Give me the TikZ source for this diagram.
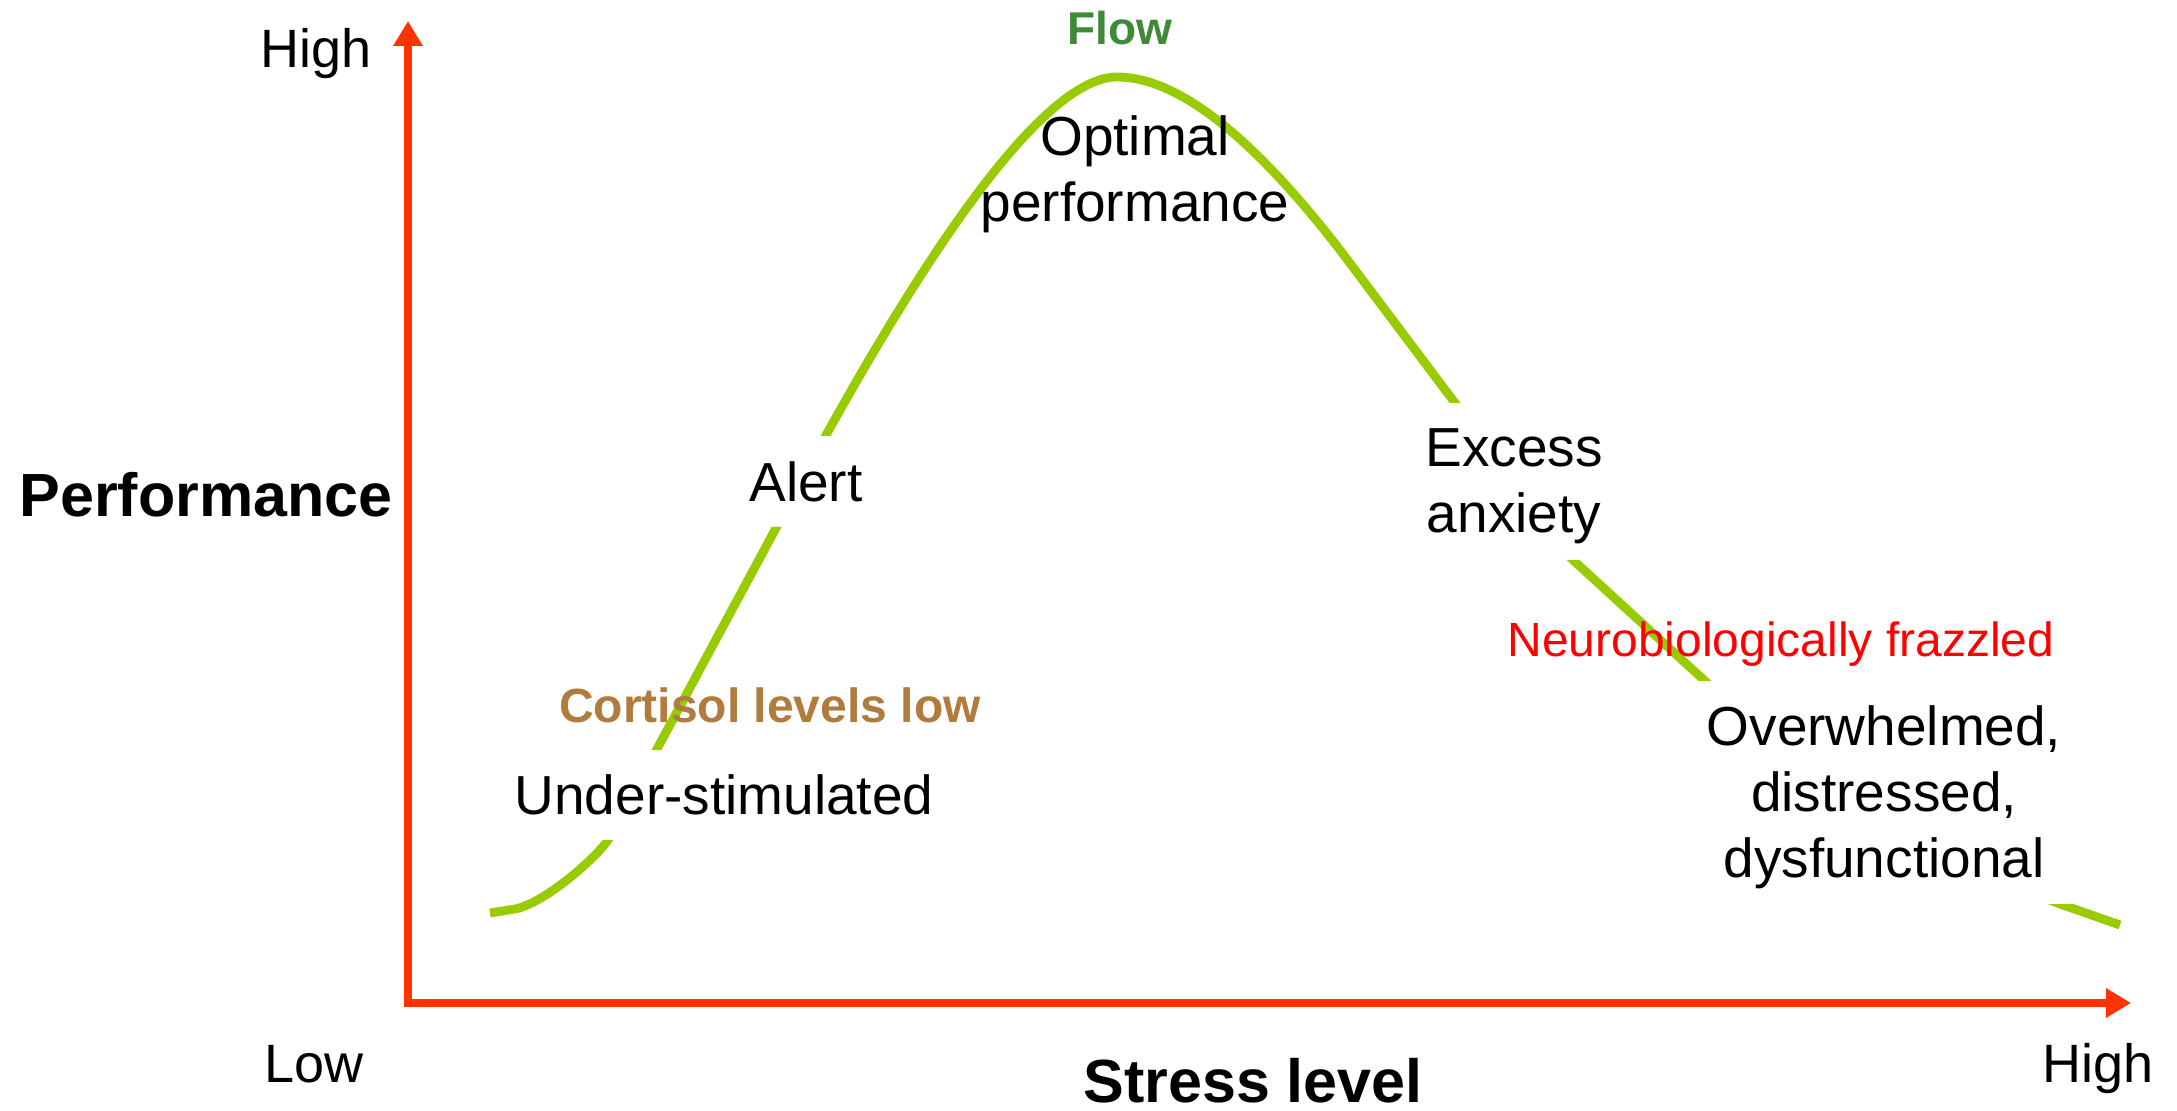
\documentclass[tikz,border=0pt]{standalone}
\usepackage{fontspec}
\setmainfont{Liberation Sans}
\usetikzlibrary{arrows.meta}
\definecolor{axisred}{HTML}{FF3300}
\definecolor{curvegreen}{HTML}{99CC00}
\definecolor{flowgreen}{HTML}{3E8A36}
\definecolor{cortbrown}{HTML}{B07B3C}
\definecolor{neured}{HTML}{FF0000}
\begin{document}
\begin{tikzpicture}[x=0.5pt,y=-0.5pt,
  lbl/.style={font=\fontsize{27.5}{33}\selectfont, inner sep=0pt, anchor=base, align=center},
  endlbl/.style={font=\fontsize{27}{33}\selectfont, inner sep=0pt, anchor=base},
  axlbl/.style={font=\fontsize{30.5}{36}\selectfont\bfseries, inner sep=0pt, anchor=base},
  notelbl/.style={font=\fontsize{24}{29}\selectfont, inner sep=0pt, anchor=base},
  curveline/.style={curvegreen, line width=4.4pt},
  axisline/.style={axisred, line width=4.3pt, line join=miter,
     {Triangle[length=12.5pt,width=14pt]}-{Triangle[length=12.5pt,width=14pt]}}]
\useasboundingbox (0,0) rectangle (2177,1111);
% axes
\coordinate (origin) at (408,1003);
\coordinate (ytip) at (408,21);
\coordinate (xtip) at (2131,1003);
\draw[axisline] (ytip) -- (origin) -- (xtip);
% curve with gaps behind the labels
\begin{scope}[even odd rule]
\clip (0,0) rectangle (2177,1111)
  (500,750) rectangle (950,840)
  (740,436) rectangle (880,527)
  (1420,403) rectangle (1620,560)
  (1690,681) rectangle (2080,904);
\draw[curveline] (490,913) -- (515,909)
  .. controls (545,903) and (596,858) .. (608,840)
  -- (825,437)
  .. controls (958,197) and (1056,77) .. (1117,77)
  .. controls (1177,77) and (1251,135) .. (1340,250)
  -- (1455,403)
  .. controls (1485,443) and (1533,523) .. (1573,560)
  -- (1705,681)
  .. controls (1805,774) and (1960,867) .. (2060,904)
  -- (2120,925);
\end{scope}
% axis labels
\node[endlbl] (yhigh) at (316,68) {High};
\node[axlbl] (ylabel) at (206,517) {Performance};
\node[endlbl] (xlow) at (314,1082) {Low};
\node[endlbl] (xhigh) at (2098,1082) {High};
\node[axlbl] (xlabel) at (1253,1102) {Stress level};
% curve labels
\node[font=\fontsize{23}{28}\selectfont\bfseries, text=flowgreen, inner sep=0pt, anchor=base] (flow) at (1120,45) {Flow};
\node[lbl] (optimal) at (1135,222) {Optimal\\performance};
\node[lbl] (alert) at (806,502) {Alert};
\node[lbl] (excess) at (1514,533) {Excess\\anxiety};
\node[notelbl, font=\fontsize{24}{29}\selectfont\bfseries, text=cortbrown] (cortisol) at (770,722) {Cortisol levels low};
\node[lbl] (under) at (724,814) {Under-stimulated};
\node[notelbl, text=neured] (frazzled) at (1781,656) {Neurobiologically frazzled};
\node[lbl] (overwhelmed) at (1884,877) {Overwhelmed,\\distressed,\\dysfunctional};
\end{tikzpicture}
\end{document}
